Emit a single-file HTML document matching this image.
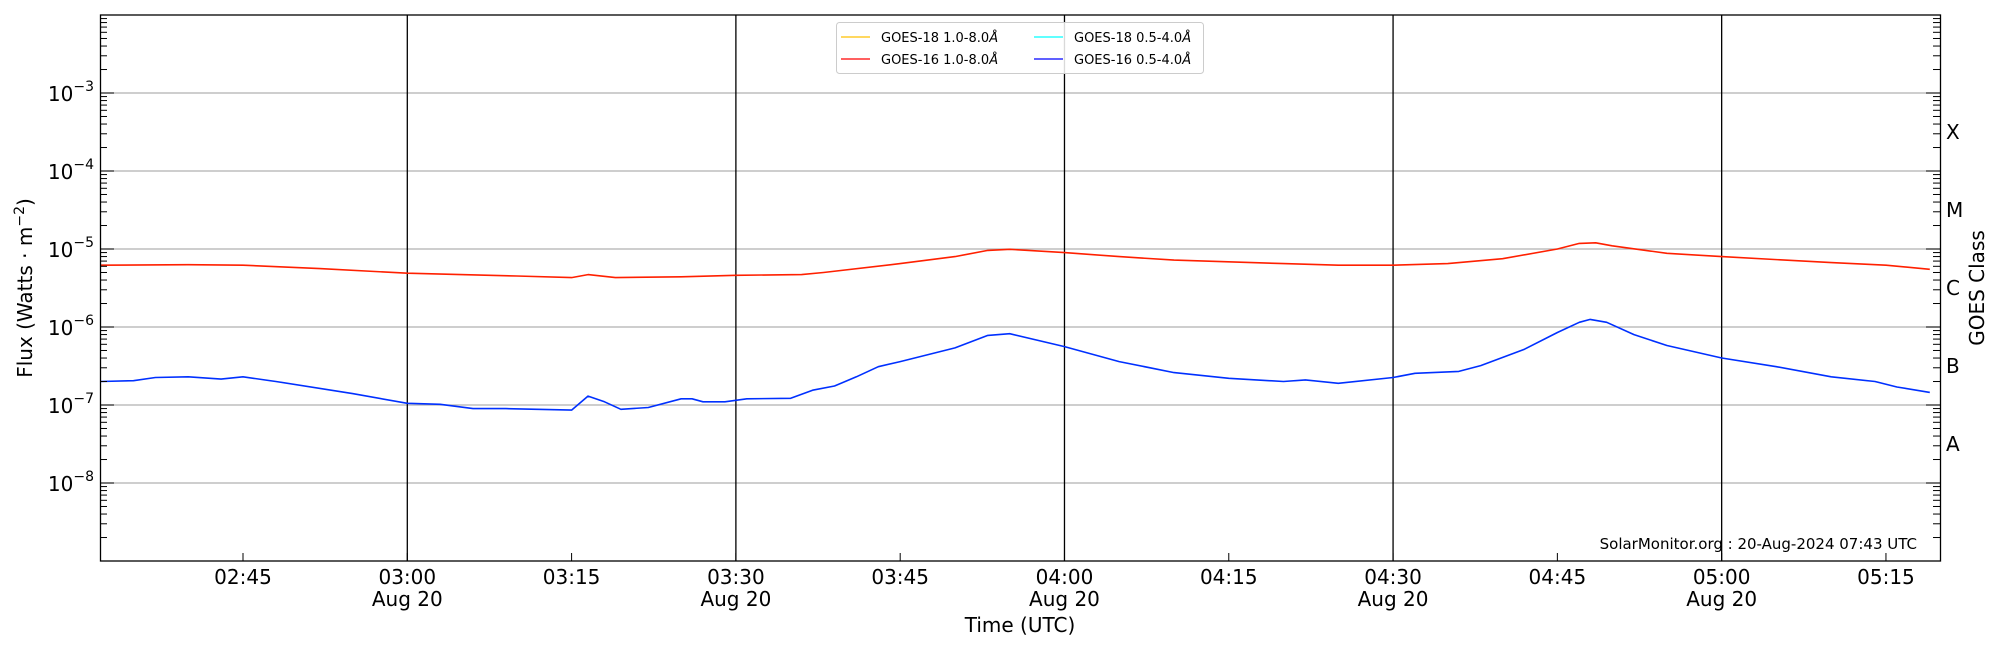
<!DOCTYPE html>
<html><head><meta charset="utf-8"><style>
body{margin:0;background:#fff;}
svg{display:block;font-family:"DejaVu Sans","Liberation Sans",sans-serif;}
</style></head><body>
<svg id="s" width="2000" height="650" viewBox="0 0 2000 650" xmlns="http://www.w3.org/2000/svg">
<rect width="2000" height="650" fill="#fff"/>
<g id="grid"></g>
<g id="series"></g>
<rect x="100.5" y="15" width="1840" height="546" fill="none" stroke="#000" stroke-width="1.3"/>
<g id="ticks"></g>
<g font-size="20" fill="#000" id="labels"></g>
<text x="1020" y="632" font-size="20" text-anchor="middle">Time (UTC)</text>
<text transform="translate(32,288) rotate(-90)" font-size="20" text-anchor="middle">Flux (Watts · m<tspan dy="-8" font-size="14">−2</tspan><tspan dy="8">)</tspan></text>
<text transform="translate(1984,288) rotate(-90)" font-size="20" text-anchor="middle">GOES Class</text>
<text x="1917" y="549" font-size="15" text-anchor="end">SolarMonitor.org : 20-Aug-2024 07:43 UTC</text>
<g>
<rect x="836.5" y="22.5" width="367" height="51" rx="3" fill="#fff" fill-opacity="0.85" stroke="#ccc"/>
<line x1="841" y1="37" x2="870" y2="37" stroke="#ffc000" stroke-width="1.3"/>
<line x1="841" y1="59" x2="870" y2="59" stroke="#ff0000" stroke-width="1.3"/>
<line x1="1034" y1="37" x2="1063" y2="37" stroke="#00ffff" stroke-width="1.3"/>
<line x1="1034" y1="59" x2="1063" y2="59" stroke="#0000ff" stroke-width="1.3"/>
<g font-size="13"><text x="881" y="42">GOES-18 1.0-8.0<tspan font-style="italic">Å</tspan></text>
<text x="881" y="64">GOES-16 1.0-8.0<tspan font-style="italic">Å</tspan></text>
<text x="1074" y="42">GOES-18 0.5-4.0<tspan font-style="italic">Å</tspan></text>
<text x="1074" y="64">GOES-16 0.5-4.0<tspan font-style="italic">Å</tspan></text></g>
</g>
</svg>
<script>
var NS="http://www.w3.org/2000/svg";
function el(p,t,a,txt){var e=document.createElementNS(NS,t);for(var k in a)e.setAttribute(k,a[k]);if(txt!=null)e.textContent=txt;document.getElementById(p).appendChild(e);return e;}
function X(m){return 407.3+(m-60)*10.953;}
function Y(l){return 15+(-2-l)*78;}
for(var d=-8;d<=-3;d++){var y=Y(d);el("grid","line",{x1:100,x2:1940,y1:y,y2:y,stroke:"#b0b0b0","stroke-width":1.2});}
[60,90,120,150,180].forEach(function(m){el("grid","line",{x1:X(m),x2:X(m),y1:15,y2:561,stroke:"#000","stroke-width":1.3});});
for(var d=-9;d<-2;d++){for(var k=1;k<10;k++){var y=Y(d+Math.log10(k));if(y<15||y>561)continue;var L=k==1?14:7;
el("ticks","line",{x1:100,x2:100+L,y1:y,y2:y,stroke:"#000","stroke-width":1});
el("ticks","line",{x1:1940,x2:1940-L,y1:y,y2:y,stroke:"#000","stroke-width":1});}}
for(var d=-8;d<=-3;d++){var t=el("labels","text",{x:94,y:Y(d)+8,"text-anchor":"end"});t.innerHTML='10<tspan dy="-10" font-size="14">−'+(-d)+'</tspan>';}
[45,60,75,90,105,120,135,150,165,180,195].forEach(function(m){var x=X(m);el("ticks","line",{x1:x,x2:x,y1:561,y2:553,stroke:"#000"});
var h=Math.floor(m/60)+2,mm=m%60;var s=("0"+h).slice(-2)+":"+("0"+mm).slice(-2);
el("labels","text",{x:x,y:584,"text-anchor":"middle"},s);
if(mm==0||mm==30)el("labels","text",{x:x,y:606,"text-anchor":"middle"},"Aug 20");});
["X","M","C","B","A"].forEach(function(c,i){el("labels","text",{x:1946,y:Y(-3.5-i)+7},c);});
var red=[[32,6.2e-6],[40,6.3e-6],[45,6.2e-6],[52,5.6e-6],[60,4.9e-6],[70,4.5e-6],[75,4.3e-6],[76.5,4.7e-6],[79,4.3e-6],[85,4.4e-6],[90,4.6e-6],[96,4.7e-6],[98,5.0e-6],[105,6.5e-6],[110,8e-6],[113,9.6e-6],[115,9.9e-6],[120,9e-6],[125,8e-6],[130,7.2e-6],[140,6.5e-6],[145,6.2e-6],[150,6.2e-6],[155,6.5e-6],[160,7.5e-6],[165,1.0e-5],[167,1.18e-5],[168.5,1.2e-5],[170,1.1e-5],[175,8.8e-6],[180,8e-6],[190,6.7e-6],[195,6.2e-6],[199,5.5e-6]];
var blue=[[32,2.0e-7],[35,2.05e-7],[37,2.25e-7],[40,2.3e-7],[43,2.15e-7],[45,2.3e-7],[48,2.0e-7],[55,1.4e-7],[60,1.05e-7],[63,1.02e-7],[66,9e-8],[69,9e-8],[75,8.6e-8],[76.5,1.3e-7],[78,1.1e-7],[79.5,8.8e-8],[82,9.3e-8],[85,1.2e-7],[86,1.2e-7],[87,1.1e-7],[89,1.1e-7],[91,1.2e-7],[95,1.22e-7],[97,1.55e-7],[99,1.75e-7],[101,2.3e-7],[103,3.1e-7],[105,3.6e-7],[110,5.4e-7],[113,7.8e-7],[115,8.2e-7],[120,5.6e-7],[125,3.6e-7],[130,2.6e-7],[135,2.2e-7],[140,2.0e-7],[142,2.1e-7],[145,1.9e-7],[150,2.25e-7],[152,2.55e-7],[156,2.7e-7],[158,3.2e-7],[162,5.2e-7],[165,8.5e-7],[167,1.15e-6],[168,1.25e-6],[169.5,1.15e-6],[172,8e-7],[175,5.8e-7],[180,4.0e-7],[185,3.1e-7],[190,2.3e-7],[194,2.0e-7],[196,1.7e-7],[199,1.45e-7]];
function path(d,c){var p=d.map(function(q,i){return(i?"L":"M")+X(q[0]).toFixed(1)+","+Y(Math.log10(q[1])).toFixed(1);}).join("");
el("series","path",{d:p,fill:"none",stroke:c,"stroke-width":1.6,"stroke-linejoin":"round"});}
path(red,"#ff2000");path(blue,"#0030ff");
</script>
</body></html>
